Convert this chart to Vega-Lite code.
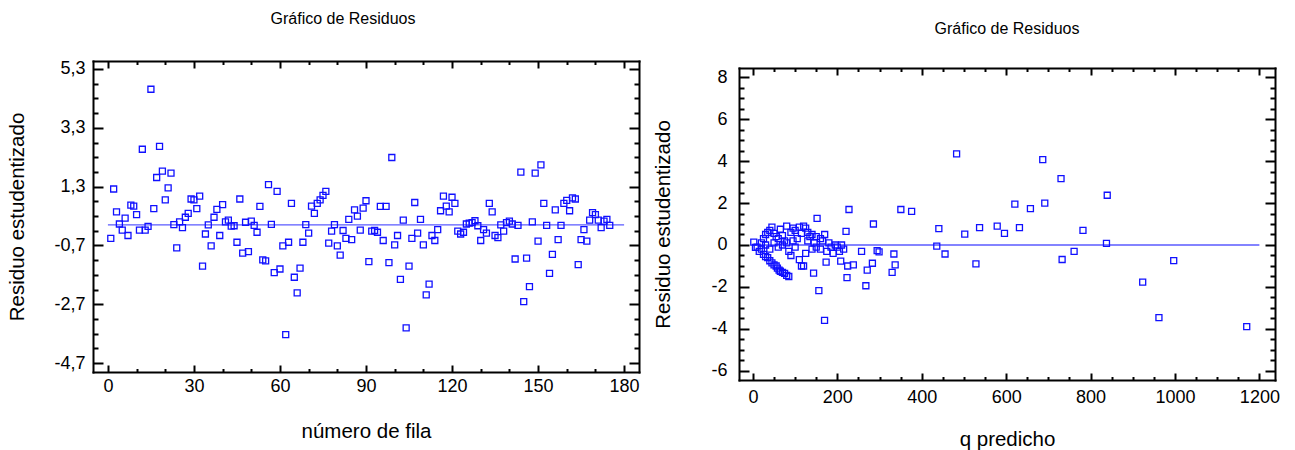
{
  "$schema": "https://vega.github.io/schema/vega-lite/v6.json",
  "background": "white",
  "padding": {"left": 7, "top": 10, "right": 0, "bottom": 0},
  "spacing": 13,
  "config": {
    "font": "Liberation Sans",
    "view": {"stroke": null},
    "axis": {
      "domain": true,
      "domainColor": "#000000",
      "domainWidth": 2,
      "domainCap": "square",
      "grid": false,
      "tickColor": "#000000",
      "tickWidth": 2,
      "labelColor": "#000000",
      "titleColor": "#000000",
      "labelFontSize": 18,
      "titleFontSize": 20.5,
      "titleFontWeight": "normal",
      "labelOverlap": false,
      "labelFlush": false,
      "labelBound": false
    },
    "title": {"fontSize": 16, "fontWeight": "normal", "color": "#000000"}
  },
  "datasets": {
    "fila": [
      {"fila": 1, "residuo": -0.46}, {"fila": 2, "residuo": 1.22}, {"fila": 3, "residuo": 0.44}, {"fila": 4, "residuo": 0.03},
      {"fila": 5, "residuo": -0.18}, {"fila": 6, "residuo": 0.23}, {"fila": 7, "residuo": -0.36}, {"fila": 8, "residuo": 0.67},
      {"fila": 9, "residuo": 0.64}, {"fila": 10, "residuo": 0.35}, {"fila": 11, "residuo": -0.18}, {"fila": 12, "residuo": 2.57},
      {"fila": 13, "residuo": -0.18}, {"fila": 14, "residuo": -0.05}, {"fila": 15, "residuo": 4.61}, {"fila": 16, "residuo": 0.55},
      {"fila": 17, "residuo": 1.61}, {"fila": 18, "residuo": 2.67}, {"fila": 19, "residuo": 1.83}, {"fila": 20, "residuo": 0.85},
      {"fila": 21, "residuo": 1.26}, {"fila": 22, "residuo": 1.76}, {"fila": 23, "residuo": 0.01}, {"fila": 24, "residuo": -0.78},
      {"fila": 25, "residuo": 0.10}, {"fila": 26, "residuo": -0.09}, {"fila": 27, "residuo": 0.26}, {"fila": 28, "residuo": 0.39},
      {"fila": 29, "residuo": 0.88}, {"fila": 30, "residuo": 0.85}, {"fila": 31, "residuo": 0.55}, {"fila": 32, "residuo": 0.98},
      {"fila": 33, "residuo": -1.40}, {"fila": 34, "residuo": -0.31}, {"fila": 35, "residuo": 0.0}, {"fila": 36, "residuo": -0.71},
      {"fila": 37, "residuo": 0.26}, {"fila": 38, "residuo": 0.53}, {"fila": 39, "residuo": -0.36}, {"fila": 40, "residuo": 0.69},
      {"fila": 41, "residuo": 0.10}, {"fila": 42, "residuo": 0.16}, {"fila": 43, "residuo": -0.04}, {"fila": 44, "residuo": -0.03},
      {"fila": 45, "residuo": -0.59}, {"fila": 46, "residuo": 0.88}, {"fila": 47, "residuo": -0.96}, {"fila": 48, "residuo": 0.09},
      {"fila": 49, "residuo": -0.91}, {"fila": 50, "residuo": 0.13}, {"fila": 51, "residuo": -0.02}, {"fila": 52, "residuo": -0.25},
      {"fila": 53, "residuo": 0.63}, {"fila": 54, "residuo": -1.19}, {"fila": 55, "residuo": -1.22}, {"fila": 56, "residuo": 1.37},
      {"fila": 57, "residuo": 0.02}, {"fila": 58, "residuo": -1.62}, {"fila": 59, "residuo": 1.14}, {"fila": 60, "residuo": -1.50},
      {"fila": 61, "residuo": -0.71}, {"fila": 62, "residuo": -3.73}, {"fila": 63, "residuo": -0.59}, {"fila": 64, "residuo": 0.73},
      {"fila": 65, "residuo": -1.78}, {"fila": 66, "residuo": -2.31}, {"fila": 67, "residuo": -1.47}, {"fila": 68, "residuo": -0.59},
      {"fila": 69, "residuo": 0.01}, {"fila": 70, "residuo": -0.28}, {"fila": 71, "residuo": 0.64}, {"fila": 72, "residuo": 0.39},
      {"fila": 73, "residuo": 0.73}, {"fila": 74, "residuo": 0.85}, {"fila": 75, "residuo": 1.0}, {"fila": 76, "residuo": 1.14},
      {"fila": 77, "residuo": -0.62}, {"fila": 78, "residuo": -0.21}, {"fila": 79, "residuo": 0.01}, {"fila": 80, "residuo": -0.71},
      {"fila": 81, "residuo": -1.03}, {"fila": 82, "residuo": -0.19}, {"fila": 83, "residuo": -0.46}, {"fila": 84, "residuo": 0.19},
      {"fila": 85, "residuo": -0.50}, {"fila": 86, "residuo": 0.51}, {"fila": 87, "residuo": 0.30}, {"fila": 88, "residuo": -0.18},
      {"fila": 89, "residuo": 0.57}, {"fila": 90, "residuo": 0.82}, {"fila": 91, "residuo": -1.25}, {"fila": 92, "residuo": -0.21},
      {"fila": 93, "residuo": -0.19}, {"fila": 94, "residuo": -0.25}, {"fila": 95, "residuo": 0.63}, {"fila": 96, "residuo": -0.53},
      {"fila": 97, "residuo": 0.63}, {"fila": 98, "residuo": -1.28}, {"fila": 99, "residuo": 2.29}, {"fila": 100, "residuo": -0.68},
      {"fila": 101, "residuo": -0.36}, {"fila": 102, "residuo": -1.85}, {"fila": 103, "residuo": 0.16}, {"fila": 104, "residuo": -3.50},
      {"fila": 105, "residuo": -1.40}, {"fila": 106, "residuo": -0.46}, {"fila": 107, "residuo": 0.76}, {"fila": 108, "residuo": -0.28},
      {"fila": 109, "residuo": 0.19}, {"fila": 110, "residuo": -0.68}, {"fila": 111, "residuo": -2.38}, {"fila": 112, "residuo": -2.01},
      {"fila": 113, "residuo": -0.36}, {"fila": 114, "residuo": -0.53}, {"fila": 115, "residuo": -0.16}, {"fila": 116, "residuo": 0.48},
      {"fila": 117, "residuo": 0.98}, {"fila": 118, "residuo": 0.64}, {"fila": 119, "residuo": 0.44}, {"fila": 120, "residuo": 0.94},
      {"fila": 121, "residuo": 0.73}, {"fila": 122, "residuo": -0.21}, {"fila": 123, "residuo": -0.31}, {"fila": 124, "residuo": -0.25},
      {"fila": 125, "residuo": 0.03}, {"fila": 126, "residuo": 0.06}, {"fila": 127, "residuo": 0.08}, {"fila": 128, "residuo": 0.14},
      {"fila": 129, "residuo": -0.03}, {"fila": 130, "residuo": -0.53}, {"fila": 131, "residuo": -0.16}, {"fila": 132, "residuo": -0.28},
      {"fila": 133, "residuo": 0.73}, {"fila": 134, "residuo": 0.44}, {"fila": 135, "residuo": -0.36}, {"fila": 136, "residuo": -0.43},
      {"fila": 137, "residuo": 0.0}, {"fila": 138, "residuo": -0.21}, {"fila": 139, "residuo": 0.08}, {"fila": 140, "residuo": 0.13},
      {"fila": 141, "residuo": 0.03}, {"fila": 142, "residuo": -1.16}, {"fila": 143, "residuo": -0.02}, {"fila": 144, "residuo": 1.79},
      {"fila": 145, "residuo": -2.61}, {"fila": 146, "residuo": -1.13}, {"fila": 147, "residuo": -2.10}, {"fila": 148, "residuo": 0.10},
      {"fila": 149, "residuo": 1.76}, {"fila": 150, "residuo": -0.55}, {"fila": 151, "residuo": 2.04}, {"fila": 152, "residuo": 0.73},
      {"fila": 153, "residuo": -0.02}, {"fila": 154, "residuo": -1.65}, {"fila": 155, "residuo": -1.0}, {"fila": 156, "residuo": 0.51},
      {"fila": 157, "residuo": -0.50}, {"fila": 158, "residuo": -0.02}, {"fila": 159, "residuo": 0.73}, {"fila": 160, "residuo": 0.83},
      {"fila": 161, "residuo": 0.48}, {"fila": 162, "residuo": 0.92}, {"fila": 163, "residuo": 0.88}, {"fila": 164, "residuo": -1.35},
      {"fila": 165, "residuo": -0.50}, {"fila": 166, "residuo": -0.16}, {"fila": 167, "residuo": -0.55}, {"fila": 168, "residuo": 0.16},
      {"fila": 169, "residuo": 0.42}, {"fila": 170, "residuo": 0.35}, {"fila": 171, "residuo": 0.16}, {"fila": 172, "residuo": -0.09},
      {"fila": 173, "residuo": 0.13}, {"fila": 174, "residuo": 0.19}, {"fila": 175, "residuo": -0.02}
    ],
    "predicho": [
      {"q": 686.7, "residuo": 4.07}, {"q": 730, "residuo": 3.16}, {"q": 839.5, "residuo": 2.37}, {"q": 620.6, "residuo": 1.95},
      {"q": 657.5, "residuo": 1.73}, {"q": 691.5, "residuo": 1.99}, {"q": 537, "residuo": 0.83}, {"q": 578.8, "residuo": 0.90},
      {"q": 596, "residuo": 0.55}, {"q": 631.5, "residuo": 0.83}, {"q": 782, "residuo": 0.70}, {"q": 837.7, "residuo": 0.08},
      {"q": 761, "residuo": -0.30}, {"q": 732.6, "residuo": -0.69}, {"q": 997, "residuo": -0.74}, {"q": 923.5, "residuo": -1.77},
      {"q": 962, "residuo": -3.46}, {"q": 1170, "residuo": -3.89}, {"q": 482.6, "residuo": 4.34},
      {"q": 227.6, "residuo": 1.69}, {"q": 350.5, "residuo": 1.69}, {"q": 376, "residuo": 1.60}, {"q": 285.5, "residuo": 1.0},
      {"q": 440.5, "residuo": 0.78}, {"q": 501.9, "residuo": 0.52}, {"q": 435.6, "residuo": -0.05}, {"q": 455.2, "residuo": -0.43},
      {"q": 528.4, "residuo": -0.90}, {"q": 334, "residuo": -0.43}, {"q": 337, "residuo": -0.95}, {"q": 329.8, "residuo": -1.30},
      {"q": 257.4, "residuo": -0.30}, {"q": 294.3, "residuo": -0.27}, {"q": 298.9, "residuo": -0.33}, {"q": 283.1, "residuo": -0.87},
      {"q": 270.8, "residuo": -1.20}, {"q": 267.6, "residuo": -1.94}, {"q": 237.9, "residuo": -0.95}, {"q": 224.5, "residuo": -1.0},
      {"q": 222.9, "residuo": -1.55}, {"q": 208, "residuo": -0.77}, {"q": 173.4, "residuo": -0.82}, {"q": 156.2, "residuo": -2.17},
      {"q": 169.7, "residuo": -3.59}, {"q": 143.7, "residuo": -1.34}, {"q": 152, "residuo": 1.27}, {"q": 220.6, "residuo": 0.65},
      {"q": 2, "residuo": 0.14}, {"q": 6, "residuo": -0.11}, {"q": 10, "residuo": -0.1}, {"q": 15, "residuo": -0.3},
      {"q": 20, "residuo": -0.2}, {"q": 25, "residuo": -0.45}, {"q": 30, "residuo": -0.55}, {"q": 35, "residuo": -0.6},
      {"q": 40, "residuo": -0.75}, {"q": 45, "residuo": -0.85}, {"q": 50, "residuo": -0.95}, {"q": 55, "residuo": -1.0},
      {"q": 58, "residuo": -1.1}, {"q": 62, "residuo": -1.2}, {"q": 65, "residuo": -1.25}, {"q": 70, "residuo": -1.3},
      {"q": 75, "residuo": -1.35}, {"q": 80, "residuo": -1.45}, {"q": 85, "residuo": -1.5},
      {"q": 20, "residuo": 0.1}, {"q": 25, "residuo": 0.3}, {"q": 30, "residuo": 0.5}, {"q": 35, "residuo": 0.6},
      {"q": 40, "residuo": 0.7}, {"q": 45, "residuo": 0.85}, {"q": 50, "residuo": 0.55}, {"q": 55, "residuo": 0.4},
      {"q": 60, "residuo": 0.3}, {"q": 65, "residuo": 0.75}, {"q": 70, "residuo": 0.45}, {"q": 75, "residuo": 0.2},
      {"q": 80, "residuo": 0.9}, {"q": 90, "residuo": 0.6}, {"q": 95, "residuo": 0.8}, {"q": 100, "residuo": 0.7},
      {"q": 110, "residuo": 0.85}, {"q": 115, "residuo": 0.55}, {"q": 120, "residuo": 0.9}, {"q": 125, "residuo": 0.8},
      {"q": 130, "residuo": 0.6}, {"q": 140, "residuo": 0.5}, {"q": 150, "residuo": 0.4}, {"q": 160, "residuo": 0.3},
      {"q": 170, "residuo": 0.5},
      {"q": 30, "residuo": 0.0}, {"q": 40, "residuo": -0.2}, {"q": 50, "residuo": 0.1}, {"q": 60, "residuo": -0.1},
      {"q": 70, "residuo": 0.0}, {"q": 80, "residuo": 0.1}, {"q": 85, "residuo": -0.3}, {"q": 90, "residuo": -0.5},
      {"q": 95, "residuo": 0.2}, {"q": 100, "residuo": -0.1}, {"q": 105, "residuo": 0.3}, {"q": 110, "residuo": -0.7},
      {"q": 115, "residuo": -1.0}, {"q": 120, "residuo": -1.0}, {"q": 125, "residuo": -0.4}, {"q": 130, "residuo": 0.2},
      {"q": 135, "residuo": 0.4}, {"q": 140, "residuo": -0.2}, {"q": 145, "residuo": 0.1}, {"q": 150, "residuo": -0.1},
      {"q": 160, "residuo": -0.2}, {"q": 165, "residuo": 0.2}, {"q": 175, "residuo": -0.3}, {"q": 180, "residuo": 0.1},
      {"q": 185, "residuo": -0.1}, {"q": 190, "residuo": -0.4}, {"q": 195, "residuo": 0.0}, {"q": 200, "residuo": -0.1},
      {"q": 205, "residuo": -0.3}, {"q": 210, "residuo": 0.0}, {"q": 215, "residuo": -0.2}
    ]
  },
  "hconcat": [
    {
      "width": 546,
      "height": 311,
      "title": {"text": "Gráfico de Residuos", "dx": -23, "offset": 33},
      "layer": [
        {
          "data": {"values": [{}]},
          "mark": {"type": "rule", "color": "#5a5aff", "strokeWidth": 1.3},
          "encoding": {
            "x": {
              "datum": 0, "type": "quantitative",
              "scale": {"domain": [-5.2, 185.2], "nice": false, "zero": false},
              "axis": {
                "orient": "top", "title": null, "labels": false,
                "values": [0, 10, 20, 30, 40, 50, 60, 70, 80, 90, 100, 110, 120, 130, 140, 150, 160, 170, 180],
                "tickSize": -7,
                "tickDash": {"condition": {"test": "datum.value % 30 === 0", "value": [7, 0]}, "value": [3.5, 20]}
              }
            },
            "x2": {"datum": 180},
            "y": {
              "datum": 0, "type": "quantitative",
              "scale": {"domain": [-5.0, 5.57], "nice": false, "zero": false},
              "axis": {
                "orient": "right", "title": null, "labels": false,
                "values": [-4.7, -4.2, -3.7, -3.2, -2.7, -2.2, -1.7, -1.2, -0.7, -0.2, 0.3, 0.8, 1.3, 1.8, 2.3, 2.8, 3.3, 3.8, 4.3, 4.8, 5.3],
                "tickSize": -10,
                "tickDash": {"condition": {"test": "indexof(['-4.7','-2.7','-0.7','1.3','3.3','5.3'], datum.value + '') >= 0", "value": [10, 0]}, "value": [5, 20]}
              }
            }
          }
        },
        {
          "data": {"name": "fila"},
          "mark": {"type": "point", "shape": "square", "filled": false, "size": 36, "strokeWidth": 1.3, "color": "#1010ff", "opacity": 1},
          "encoding": {
            "x": {
              "field": "fila", "type": "quantitative",
              "scale": {"domain": [-5.2, 185.2], "nice": false, "zero": false},
              "axis": {
                "orient": "bottom", "title": "número de fila",
                "values": [0, 10, 20, 30, 40, 50, 60, 70, 80, 90, 100, 110, 120, 130, 140, 150, 160, 170, 180],
                "tickSize": -7,
                "tickDash": {"condition": {"test": "datum.value % 30 === 0", "value": [7, 0]}, "value": [3.5, 20]},
                "labelExpr": "datum.value % 30 === 0 ? datum.value + '' : ''",
                "labelPadding": 12,
                "titlePadding": 26
              }
            },
            "y": {
              "field": "residuo", "type": "quantitative",
              "scale": {"domain": [-5.0, 5.57], "nice": false, "zero": false},
              "axis": {
                "orient": "left", "title": "Residuo estudentizado",
                "values": [-4.7, -4.2, -3.7, -3.2, -2.7, -2.2, -1.7, -1.2, -0.7, -0.2, 0.3, 0.8, 1.3, 1.8, 2.3, 2.8, 3.3, 3.8, 4.3, 4.8, 5.3],
                "tickSize": -10,
                "tickDash": {"condition": {"test": "indexof(['-4.7','-2.7','-0.7','1.3','3.3','5.3'], datum.value + '') >= 0", "value": [10, 0]}, "value": [5, 20]},
                "labelExpr": "indexof(['-4.7','-2.7','-0.7','1.3','3.3','5.3'], datum.value + '') >= 0 ? replace(datum.value + '', '.', ',') : ''",
                "labelPadding": 18,
                "titlePadding": 26
              }
            }
          }
        }
      ],
      "resolve": {"scale": {"x": "independent", "y": "independent"}, "axis": {"x": "independent", "y": "independent"}}
    },
    {
      "width": 536,
      "height": 319,
      "title": {"text": "Gráfico de Residuos", "offset": 24},
      "layer": [
        {
          "data": {"values": [{}]},
          "mark": {"type": "rule", "color": "#5a5aff", "strokeWidth": 1.3},
          "encoding": {
            "x": {
              "datum": 0, "type": "quantitative",
              "scale": {"domain": [-33, 1237], "nice": false, "zero": false},
              "axis": {
                "orient": "top", "title": null, "labels": false, "offset": -7,
                "values": [0, 50, 100, 150, 200, 250, 300, 350, 400, 450, 500, 550, 600, 650, 700, 750, 800, 850, 900, 950, 1000, 1050, 1100, 1150, 1200],
                "tickSize": -7,
                "tickDash": {"condition": {"test": "datum.value % 200 === 0", "value": [7, 0]}, "value": [3.5, 20]}
              }
            },
            "x2": {"datum": 1200},
            "y": {
              "datum": 0, "type": "quantitative",
              "scale": {"domain": [-6.43, 8.43], "nice": false, "zero": false, "range": [319, 7]},
              "axis": {
                "orient": "right", "title": null, "labels": false,
                "values": [-6, -5.5, -5, -4.5, -4, -3.5, -3, -2.5, -2, -1.5, -1, -0.5, 0, 0.5, 1, 1.5, 2, 2.5, 3, 3.5, 4, 4.5, 5, 5.5, 6, 6.5, 7, 7.5, 8],
                "tickSize": -10,
                "tickDash": {"condition": {"test": "datum.value % 2 === 0", "value": [10, 0]}, "value": [5, 20]}
              }
            }
          }
        },
        {
          "data": {"name": "predicho"},
          "mark": {"type": "point", "shape": "square", "filled": false, "size": 36, "strokeWidth": 1.3, "color": "#1010ff", "opacity": 1},
          "encoding": {
            "x": {
              "field": "q", "type": "quantitative",
              "scale": {"domain": [-33, 1237], "nice": false, "zero": false},
              "axis": {
                "orient": "bottom", "title": "q predicho",
                "values": [0, 50, 100, 150, 200, 250, 300, 350, 400, 450, 500, 550, 600, 650, 700, 750, 800, 850, 900, 950, 1000, 1050, 1100, 1150, 1200],
                "tickSize": -7,
                "tickDash": {"condition": {"test": "datum.value % 200 === 0", "value": [7, 0]}, "value": [3.5, 20]},
                "labelExpr": "datum.value % 200 === 0 ? datum.value + '' : ''",
                "labelPadding": 15,
                "titlePadding": 23
              }
            },
            "y": {
              "field": "residuo", "type": "quantitative",
              "scale": {"domain": [-6.43, 8.43], "nice": false, "zero": false, "range": [319, 7]},
              "axis": {
                "orient": "left", "title": "Residuo estudentizado",
                "values": [-6, -5.5, -5, -4.5, -4, -3.5, -3, -2.5, -2, -1.5, -1, -0.5, 0, 0.5, 1, 1.5, 2, 2.5, 3, 3.5, 4, 4.5, 5, 5.5, 6, 6.5, 7, 7.5, 8],
                "tickSize": -10,
                "tickDash": {"condition": {"test": "datum.value % 2 === 0", "value": [10, 0]}, "value": [5, 20]},
                "labelExpr": "datum.value % 2 === 0 ? datum.value + '' : ''",
                "labelPadding": 22,
                "titlePadding": 37
              }
            }
          }
        }
      ],
      "resolve": {"scale": {"x": "independent", "y": "independent"}, "axis": {"x": "independent", "y": "independent"}}
    }
  ]
}
